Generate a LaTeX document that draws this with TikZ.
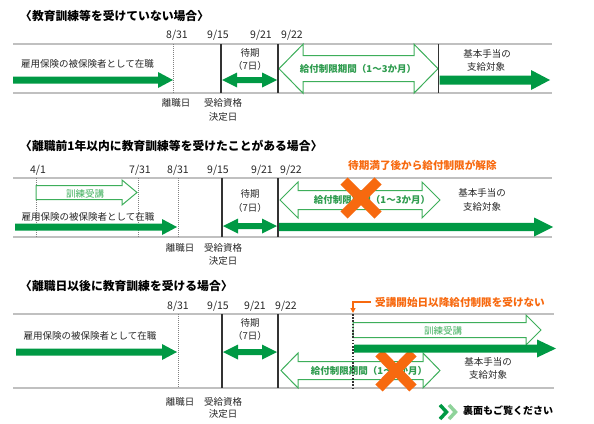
\documentclass[tikz,border=0pt]{standalone}
\usepackage{fontspec}
\usetikzlibrary{arrows.meta}
\setmainfont{Noto Sans CJK JP}
\definecolor{gdark}{HTML}{009944}
\definecolor{gout}{HTML}{3DAE5A}
\definecolor{gtext}{HTML}{2F9C4F}
\definecolor{glight}{HTML}{8FD39A}
\definecolor{orng}{HTML}{F7690F}
\definecolor{linegray}{HTML}{C0C0C0}
\definecolor{dk}{HTML}{333333}
\newcommand\garrow[7]{%
\path[#7] (#1,#3-#4) -- (#2-#6,#3-#4) -- (#2-#6,#3-#5) -- (#2,#3) -- (#2-#6,#3+#5) -- (#2-#6,#3+#4) -- (#1,#3+#4) -- cycle;}
\newcommand\gdarrow[7]{%
\path[#7] (#1,#3) -- (#1+#6,#3-#5) -- (#1+#6,#3-#4) -- (#2-#6,#3-#4) -- (#2-#6,#3-#5) -- (#2,#3) -- (#2-#6,#3+#5) -- (#2-#6,#3+#4) -- (#1+#6,#3+#4) -- (#1+#6,#3+#5) -- cycle;}
\tikzset{
  hline/.style={draw=linegray, line width=1.5},
  dotv/.style={draw=gray, line width=0.6, dash pattern=on 1pt off 1pt},
  solv/.style={draw=dk, line width=1.8},
  solidg/.style={fill=gdark},
  outg/.style={draw=gout, line width=1, fill=white},
  title/.style={font=\fontsize{11.8}{12}\selectfont\bfseries, anchor=west, inner sep=0},
  lbl/.style={font=\fontsize{9.5}{10}\selectfont, inner sep=0, text=black!85},
  datel/.style={font=\fontsize{10.5}{11}\selectfont, inner sep=0, text=black!85},
  gtxt/.style={font=\fontsize{9.5}{10}\selectfont\bfseries, inner sep=0, text=gtext},
  trtxt/.style={font=\fontsize{9.5}{10}\selectfont, inner sep=0, text=gout},
  otxt/.style={font=\fontsize{10.6}{11}\selectfont\bfseries, inner sep=0, text=orng, anchor=west},
  xmark/.style={draw=orng, line width=10},
}
\begin{document}
\begin{tikzpicture}[x=1pt,y=-1pt]
\useasboundingbox (0,0) rectangle (594,423);
% ================= Panel 1 =================
\node[title] (t1) at (20,16) {〈教育訓練等を受けていない場合〉};
\node[datel] (d1a) at (177,35) {8/31};
\node[datel] (d1b) at (218,35) {9/15};
\node[datel] (d1c) at (261,35) {9/21};
\node[datel] (d1d) at (292,35) {9/22};
\draw[hline] (13,44) -- (552,44);
\draw[hline] (13,93) -- (552,93);
\draw[dotv] (173,44) -- (173,93);
\gdarrow{279}{438}{68.7}{13}{24.5}{24}{outg}
\node[gtxt] (g1) at (358,69) {給付制限期間（1～3か月）};
\draw[solv] (221,44) -- (221,93);
\draw[solv] (278,44) -- (278,93);
\draw[solv] (438.5,44) -- (438.5,93);
\garrow{13}{173}{80}{3.5}{8}{15}{solidg}
\gdarrow{222}{277}{80}{3}{7.5}{15}{solidg}
\garrow{439.5}{550}{80}{4.5}{10}{19}{solidg}
\node[lbl] (e1) at (87.5,64) {雇用保険の被保険者として在職};
\node[lbl] (w1a) at (250,53) {待期};
\node[lbl] (w1b) at (250,66) {（7日）};
\node[lbl] (k1a) at (487,54) {基本手当の};
\node[lbl] (k1b) at (486,67) {支給対象};
\node[lbl] (r1) at (176,103) {離職日};
\node[lbl] (j1a) at (223,103) {受給資格};
\node[lbl] (j1b) at (223,117) {決定日};
% ================= Panel 2 =================
\node[title] (t2) at (20,146) {〈離職前1年以内に教育訓練等を受けたことがある場合〉};
\node[datel] (d2a) at (38,170) {4/1};
\node[datel] (d2b) at (140,170) {7/31};
\node[datel] (d2c) at (178,170) {8/31};
\node[datel] (d2d) at (218,170) {9/15};
\node[datel] (d2e) at (262,170) {9/21};
\node[datel] (d2f) at (291,170) {9/22};
\node[otxt] (o2) at (348,165) {待期満了後から給付制限が解除};
\draw[hline] (13,178) -- (552,178);
\draw[hline] (13,237) -- (552,237);
\draw[dotv] (36,178) -- (36,237);
\draw[dotv] (138,178) -- (138,237);
\draw[dotv] (178,178) -- (178,237);
\draw[solv] (222,178) -- (222,237);
\draw[solv] (278,178) -- (278,237);
\garrow{36}{137}{192.5}{7}{12.5}{15}{outg}
\node[trtxt] (tr2) at (85,194) {訓練受講};
\gdarrow{280}{440}{200}{9.5}{18}{18}{outg}
\node[gtxt] (g2) at (372,200) {給付制限期間（1～3か月）};
\draw[xmark] (344,181) -- (378,215);
\draw[xmark] (378,181) -- (344,215);
\garrow{15}{177}{227}{3.5}{8}{15}{solidg}
\gdarrow{223}{277}{226}{3}{7.5}{15}{solidg}
\garrow{279}{553}{227}{4.2}{9.5}{19}{solidg}
\node[lbl] (e2) at (88,217) {雇用保険の被保険者として在職};
\node[lbl] (w2a) at (250,194) {待期};
\node[lbl] (w2b) at (250,208) {（7日）};
\node[lbl] (k2a) at (482,193) {基本手当の};
\node[lbl] (k2b) at (482,207) {支給対象};
\node[lbl] (r2) at (180,248) {離職日};
\node[lbl] (j2a) at (223,248) {受給資格};
\node[lbl] (j2b) at (223,261) {決定日};
% ================= Panel 3 =================
\node[title] (t3) at (20,286) {〈離職日以後に教育訓練を受ける場合〉};
\node[datel] (d3a) at (178,306) {8/31};
\node[datel] (d3b) at (218,306) {9/15};
\node[datel] (d3c) at (255,306) {9/21};
\node[datel] (d3d) at (286,306) {9/22};
\node[otxt] (o3) at (375,302) {受講開始日以降給付制限を受けない};
\coordinate (ob) at (353,302);
\coordinate (oe) at (353,313);
\draw[orng, line width=1.6, -{Triangle[length=5pt,width=5pt]}] (o3.west) ++(-4,0) -- (ob) -- (oe);
\draw[hline] (13,314) -- (554,314);
\draw[hline] (13,388) -- (554,388);
\draw[dotv] (178,314) -- (178,388);
\draw[solv] (222,314) -- (222,388);
\draw[solv] (278,314) -- (278,388);
\garrow{353}{541}{330}{7.5}{15}{15}{outg}
\node[trtxt] (tr3) at (443,331) {訓練受講};
\gdarrow{281}{440}{370.5}{9}{17.5}{17}{outg}
\node[gtxt] (g3) at (369,371) {給付制限期間（1～3か月）};
\draw[dk, line width=2, dash pattern=on 1.6pt off 1.6pt] (353,314) -- (353,388);
\draw[xmark] (379,353) -- (413,388);
\draw[xmark] (413,353) -- (379,388);
\garrow{16}{177}{352}{3.5}{8}{15}{solidg}
\gdarrow{223}{277}{352}{3}{7.5}{15}{solidg}
\garrow{354}{556}{348.5}{4}{9}{19}{solidg}
\node[lbl] (e3) at (90,336) {雇用保険の被保険者として在職};
\node[lbl] (w3a) at (250,323) {待期};
\node[lbl] (w3b) at (250,336) {（7日）};
\node[lbl] (k3a) at (488,362) {基本手当の};
\node[lbl] (k3b) at (488,375) {支給対象};
\node[lbl] (r3) at (180,402) {離職日};
\node[lbl] (j3a) at (223,402) {受給資格};
\node[lbl] (j3b) at (223,414) {決定日};
% ================= footer =================
\draw[gdark, line width=3.5] (440,405) -- (446.5,412) -- (440,419);
\draw[glight, line width=3.5] (449,405) -- (455.5,412) -- (449,419);
\node[font=\fontsize{10}{11}\selectfont\bfseries, anchor=west, inner sep=0] (ft) at (463,411) {裏面もご覧ください};
\end{tikzpicture}
\end{document}
